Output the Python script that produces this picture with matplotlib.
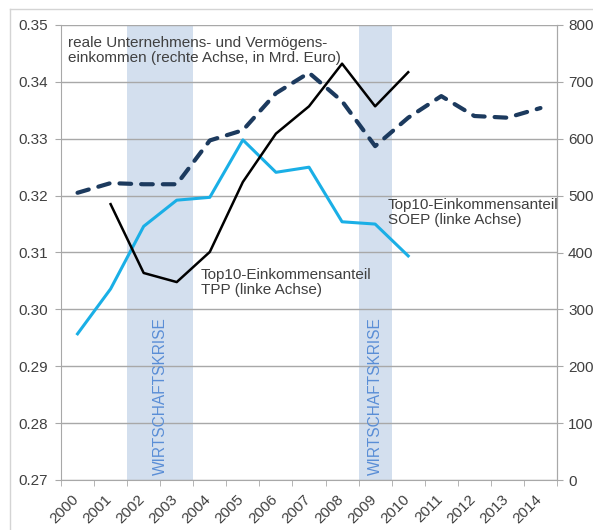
import numpy as np
import matplotlib
matplotlib.use("Agg")
import matplotlib.pyplot as plt
from matplotlib.lines import Line2D
import matplotlib.transforms as mtrans

plt.rcParams['font.family'] = ['Liberation Sans', 'DejaVu Sans']

years = [str(y) for y in range(2000, 2015)]
soep_years = list(range(2000, 2011))
soep = [0.2957, 0.3036, 0.3146, 0.3192, 0.3197, 0.3298, 0.3241, 0.3250, 0.3154, 0.3150, 0.3094]
tpp_years = list(range(2001, 2011))
tpp = [0.3185, 0.3064, 0.3048, 0.3101, 0.3224, 0.3309, 0.3357, 0.3432, 0.3357, 0.3417]
inc_years = list(range(2000, 2015))
income = [505, 522, 520, 520, 597, 615, 680, 716, 666, 587, 637, 675, 640, 637, 654]
crises = [(2002, 2003), (2009, 2009)]
left_ticks = [0.27, 0.28, 0.29, 0.30, 0.31, 0.32, 0.33, 0.34, 0.35]
right_ticks = [0, 100, 200, 300, 400, 500, 600, 700, 800]

def idx(ys):
    return [int(y) - 2000 for y in ys]

fig = plt.figure(figsize=(5.93, 5.30), dpi=100)
ax = fig.add_axes([61/593, 1-480/530, (557-61)/593, (480-25)/530])
ax2 = ax.twinx()

txtc = '#404040'
gridc = '#a8a8a8'

# bands
for a, b in crises:
    ax.axvspan(a - 2000 - 0.5, b - 2000 + 0.5, color='#d3dfee', lw=0, zorder=0)
    ax.text((a + b) / 2 - 2000, 0.2709, 'WIRTSCHAFTSKRISE', rotation=90,
            ha='center', va='bottom', color='#5a8ed6', fontsize=11.2, zorder=1)

ax.set_xlim(-0.5, 14.5)
ax.set_ylim(0.27, 0.35)
ax2.set_ylim(0, 800)
ax.set_yticks(left_ticks)
ax.set_yticklabels([f'{v:.2f}' for v in left_ticks])
ax2.set_yticks(right_ticks)
ax2.set_yticklabels([str(v) for v in right_ticks])
for v in left_ticks:
    ax.axhline(v, color=gridc, lw=1.0, zorder=0.5)

ax.set_xticks(range(len(years)))
ax.set_xticklabels(years, rotation=45, ha='right', va='top')
ax.set_xticks(np.arange(-0.5, 15, 1), minor=True)
ax.tick_params(axis='x', which='major', length=0, pad=8.5, labelsize=11, labelcolor=txtc)
ax.tick_params(axis='x', which='minor', length=4, color=gridc, direction='out')
ax.tick_params(axis='y', length=4.5, color=gridc, pad=5, labelsize=11, labelcolor=txtc)
ax2.tick_params(axis='y', length=4, color=gridc, pad=4, labelsize=11, labelcolor=txtc)
off = mtrans.ScaledTranslation(4/100, 0, fig.dpi_scale_trans)
for lab in ax.get_xticklabels():
    lab.set_transform(lab.get_transform() + off)

for a in (ax, ax2):
    a.spines['top'].set_visible(False)
    a.spines['bottom'].set_color(gridc)
    a.spines['right'].set_color(gridc)
    a.spines['left'].set_color(gridc)
ax2.spines['bottom'].set_visible(False)
ax2.spines['left'].set_visible(False)

ax.plot(idx(soep_years), soep, color='#1aafe6', lw=2.2, zorder=3)
ax.plot(idx(tpp_years), tpp, color='#000000', lw=1.8, zorder=3)
ax2.plot(idx(inc_years), income, color='#1c3a5e', lw=3.0, dashes=(2.8, 2.4),
         dash_capstyle='round', zorder=3)

fig.text(68/593, 1 - 36/530, 'reale Unternehmens- und Vermögens-\neinkommen (rechte Achse, in Mrd. Euro)',
         ha='left', va='top', fontsize=11, color=txtc, linespacing=1.12)
fig.text(388/593, 1 - 198/530, 'Top10-Einkommensanteil\nSOEP (linke Achse)',
         ha='left', va='top', fontsize=11, color=txtc, linespacing=1.12)
fig.text(201/593, 1 - 268/530, 'Top10-Einkommensanteil\nTPP (linke Achse)',
         ha='left', va='top', fontsize=11, color=txtc, linespacing=1.12)

# outer frame
fig.add_artist(Line2D([10/593, 1], [1 - 9/530, 1 - 9/530], color='#d4d4d4', lw=1))
fig.add_artist(Line2D([10/593, 10/593], [0, 1 - 9/530], color='#d4d4d4', lw=1))

fig.savefig('out.png', dpi=100)
